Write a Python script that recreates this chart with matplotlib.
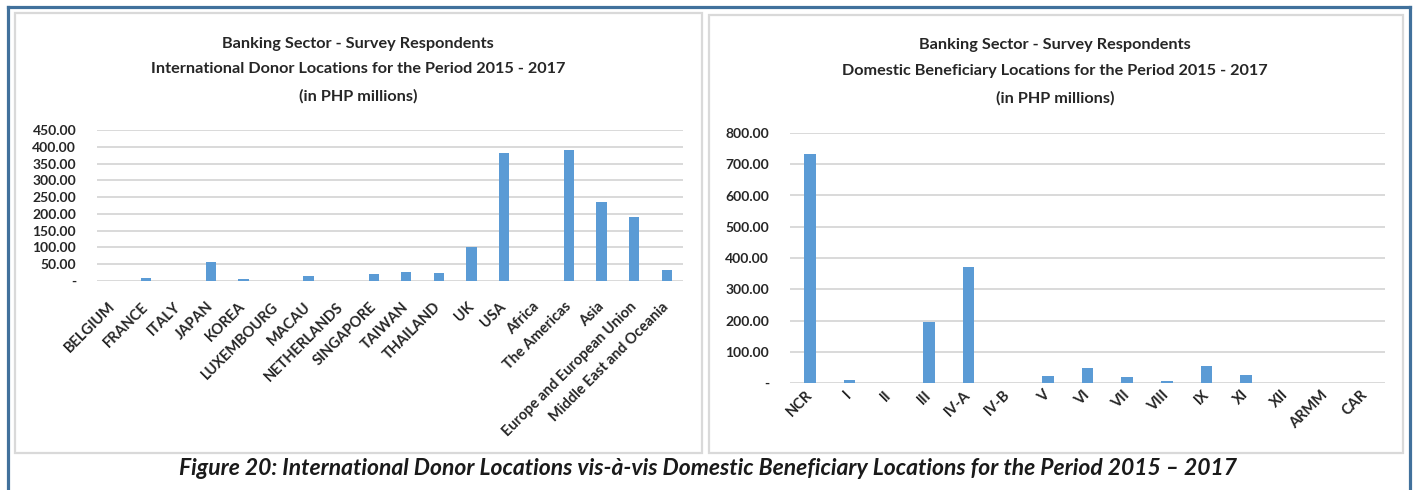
import numpy as np
import matplotlib.pyplot as plt
from matplotlib.patches import Rectangle
from matplotlib.lines import Line2D
from matplotlib.ticker import FuncFormatter, MultipleLocator

# International donor locations (PHP millions)
donor_locations = ['BELGIUM', 'FRANCE', 'ITALY', 'JAPAN', 'KOREA', 'LUXEMBOURG',
                   'MACAU', 'NETHERLANDS', 'SINGAPORE', 'TAIWAN', 'THAILAND', 'UK',
                   'USA', 'Africa', 'The Americas', 'Asia',
                   'Europe and European Union', 'Middle East and Oceania']
donor_values = [0.3, 10, 0.2, 57, 7, 0.2, 15, 0.2, 20, 28, 23, 100,
                380, 0.3, 391, 235, 190, 33]

# Domestic beneficiary regions (PHP millions)
region_names = ['NCR', 'I', 'II', 'III', 'IV-A', 'IV-B', 'V', 'VI', 'VII',
                'VIII', 'IX', 'XI', 'XII', 'ARMM', 'CAR']
region_values = [734, 10, 0.3, 195, 372, 0.3, 23, 49, 20, 7, 53, 26,
                 0.3, 0.3, 0.3]

donor_title = ['Banking Sector - Survey Respondents',
               'International Donor Locations for the Period 2015 - 2017',
               '(in PHP millions)']
region_title = ['Banking Sector - Survey Respondents',
                'Domestic Beneficiary Locations for the Period 2015 - 2017',
                '(in PHP millions)']

W, H = 1416, 490
BAR = '#5b9bd5'
GRID = '#d9d9d9'
TXT = '#262626'
FONT = 'Lato'

plt.rcParams['font.family'] = [FONT, 'DejaVu Sans']

fig = plt.figure(figsize=(W / 100, H / 100), dpi=100)
fig.patch.set_facecolor('white')


def fx(px):
    return px / W


def fy(py):
    return 1 - py / H


def acct(v, pos):
    return '-' if abs(v) < 1e-9 else f'{v:,.2f}'


# outer blue frame (open at the bottom)
blue = '#41719c'
for xs, ys in [([8, 8], [7, 495]), ([8, 1410], [7, 7]), ([1410, 1410], [7, 495])]:
    fig.add_artist(Line2D([fx(v) for v in xs], [fy(v) for v in ys],
                          color=blue, lw=2.3, transform=fig.transFigure))

# chart boxes
for x0, y0, x1, y1 in [(15, 13, 702, 453), (709, 15, 1403, 453)]:
    fig.add_artist(Rectangle((fx(x0), fy(y1)), fx(x1) - fx(x0), fy(y0) - fy(y1),
                             transform=fig.transFigure, fill=False,
                             edgecolor='#d9d9d9', lw=1.6))


def bar_panel(rect, names, values, ymax, step, width, xpad):
    x0, y0, x1, y1 = rect
    ax = fig.add_axes([fx(x0), fy(y1), fx(x1) - fx(x0), fy(y0) - fy(y1)])
    x = np.arange(len(names))
    ax.bar(x, values, width=width, color=BAR, zorder=3)
    ax.set_xlim(-0.5, len(names) - 0.5)
    ax.set_ylim(0, ymax)
    ax.yaxis.set_major_locator(MultipleLocator(step))
    ax.yaxis.set_major_formatter(FuncFormatter(acct))
    ax.yaxis.grid(True, color=GRID, lw=1.4, zorder=0)
    for s in ax.spines.values():
        s.set_visible(False)
    ax.tick_params(length=0, colors=TXT)
    ax.tick_params(axis='y', pad=15)
    for lab in ax.get_yticklabels():
        lab.set_fontweight('bold')
        lab.set_fontsize(10)
    ax.set_xticks(x)
    ax.set_xticklabels(names, rotation=45, ha='right', va='center',
                       rotation_mode='anchor', fontsize=10.5, fontweight='bold',
                       color=TXT)
    ax.tick_params(axis='x', pad=xpad)
    return ax


bar_panel((97, 130, 683, 281), donor_locations, donor_values, 450, 50, 0.32, 17)
bar_panel((790, 133, 1385, 383), region_names, region_values, 800, 100, 0.3, 7)


def title_block(cx, ys, lines):
    for y, line in zip(ys, lines):
        fig.text(fx(cx), fy(y), line, ha='center', va='center', fontsize=11.7,
                 fontweight='bold', color=TXT)


title_block(358, [44, 69, 96], donor_title)
title_block(1055, [45, 71, 98], region_title)

fig.text(fx(708), fy(468),
         'Figure 20: International Donor Locations vis-à-vis Domestic '
         'Beneficiary Locations for the Period 2015 – 2017',
         ha='center', va='center', fontsize=16.5, fontweight='bold',
         fontstyle='italic', color='#1a1a1a')

fig.savefig('out.png', dpi=100, facecolor='white')
